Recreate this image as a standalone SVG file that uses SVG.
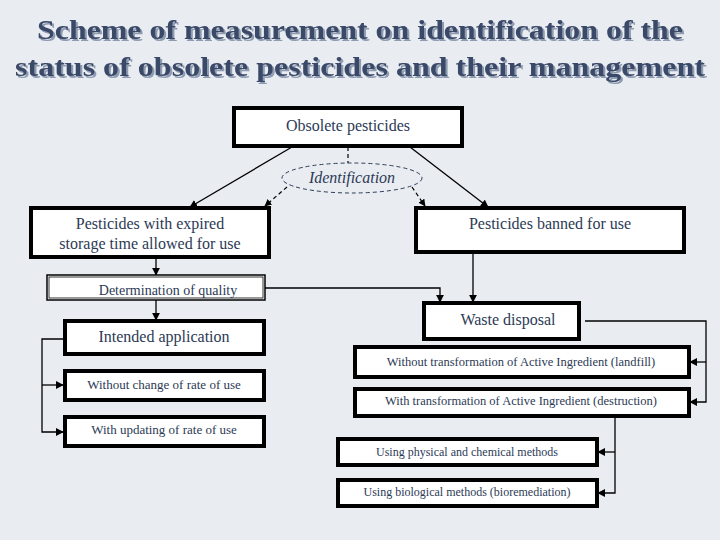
<svg xmlns="http://www.w3.org/2000/svg" width="720" height="540" viewBox="0 0 720 540">
<defs>
<marker id="a" viewBox="0 0 10 10" refX="9" refY="5" markerWidth="6" markerHeight="6" orient="auto"><path d="M0,0L10,5L0,10z" fill="#000"/></marker>
<filter id="sh" x="-5%" y="-30%" width="110%" height="160%"><feDropShadow dx="2" dy="2" stdDeviation="0.6" flood-color="#8e9bb0"/></filter>
<style>
text{font-family:'Liberation Serif',serif}
.t{fill:#2c3a55;text-anchor:middle}
.b{fill:#fff;stroke:#000;stroke-width:4}
.n{fill:#fff;stroke:#000;stroke-width:1.5}
.l{fill:none;stroke:#000;stroke-width:1.3}
.d{fill:none;stroke:#000;stroke-width:1.2;stroke-dasharray:4,3}
</style>
</defs>
<rect width="720" height="540" fill="#e9edf2"/>
<g font-weight="bold" font-size="27" text-anchor="middle" fill="#3b4868" filter="url(#sh)">
<text x="360" y="39" textLength="646" lengthAdjust="spacingAndGlyphs">Scheme of measurement on identification of the</text>
<text x="360" y="76" textLength="690" lengthAdjust="spacingAndGlyphs">status of obsolete pesticides and their management</text>
</g>
<g id="connectors">
<line class="l" x1="292" y1="147" x2="190" y2="207" marker-end="url(#a)"/>
<line class="l" x1="410" y1="147" x2="488" y2="207" marker-end="url(#a)"/>
<line class="d" x1="348" y1="147" x2="348" y2="163"/>
<line class="d" x1="287" y1="187" x2="265" y2="206" marker-end="url(#a)"/>
<line class="d" x1="412" y1="187" x2="425" y2="206" marker-end="url(#a)"/>
<line class="l" x1="156" y1="258" x2="156" y2="275" marker-end="url(#a)"/>
<polyline class="l" points="265,288 440,288 440,302" marker-end="url(#a)"/>
<line class="l" x1="473" y1="253" x2="473" y2="302" marker-end="url(#a)"/>
<line class="l" x1="156" y1="300" x2="156" y2="320" marker-end="url(#a)"/>
<polyline class="l" points="63,339 42,339 42,432 63,432" marker-end="url(#a)"/>
<line class="l" x1="42" y1="385" x2="63" y2="385" marker-end="url(#a)"/>
<polyline class="l" points="585,321 706,321 706,402 690,402" marker-end="url(#a)"/>
<line class="l" x1="706" y1="362" x2="690" y2="362" marker-end="url(#a)"/>
<polyline class="l" points="615,416 615,493 598,493" marker-end="url(#a)"/>
<line class="l" x1="615" y1="452" x2="598" y2="452" marker-end="url(#a)"/>
</g>
<g id="obsolete"><rect class="b" x="234" y="108" width="228" height="38"/><text class="t" x="348" y="131" font-size="16">Obsolete pesticides</text></g>
<g id="ident"><ellipse cx="352" cy="178" rx="70" ry="15" fill="#e9edf2" stroke="#2c3a55" stroke-width="1" stroke-dasharray="4,3"/><text class="t" x="352" y="183" font-size="16" font-style="italic">Identification</text></g>
<g id="expired"><rect class="b" x="31" y="208" width="238" height="49"/><text class="t" x="150" y="229" font-size="16">Pesticides with expired</text><text class="t" x="150" y="249" font-size="16">storage time allowed for use</text></g>
<g id="banned"><rect class="b" x="416" y="208" width="268" height="44"/><text class="t" x="550" y="229" font-size="16">Pesticides banned for use</text></g>
<g id="determination"><rect class="n" x="47" y="275" width="218" height="25"/><rect fill="none" stroke="#000" stroke-width="0.8" x="49" y="277" width="214" height="21"/><text class="t" x="168" y="295" font-size="14">Determination of quality</text></g>
<g id="waste"><rect class="b" x="424" y="303" width="155" height="36"/><text class="t" x="508" y="325" font-size="16">Waste disposal</text></g>
<g id="intended"><rect class="b" x="65" y="321" width="199" height="33"/><text class="t" x="164" y="342" font-size="16">Intended application</text></g>
<g id="withoutchange"><rect class="b" x="65" y="371" width="199" height="29" stroke-width="3"/><text class="t" x="164" y="389" font-size="13">Without change of rate of use</text></g>
<g id="withupdating"><rect class="b" x="65" y="417" width="199" height="29" stroke-width="3"/><text class="t" x="164" y="434" font-size="13">With updating of rate of use</text></g>
<g id="withouttrans"><rect class="b" x="355" y="347" width="334" height="30" stroke-width="3"/><text class="t" x="521" y="366" font-size="12.5">Without transformation of Active Ingredient (landfill)</text></g>
<g id="withtrans"><rect class="b" x="355" y="389" width="334" height="27" stroke-width="3"/><text class="t" x="521" y="405" font-size="12.5">With transformation of Active Ingredient (destruction)</text></g>
<g id="physical"><rect class="b" x="338" y="439" width="259" height="26" stroke-width="3"/><text class="t" x="467" y="456" font-size="12">Using physical and chemical methods</text></g>
<g id="biological"><rect class="b" x="338" y="480" width="259" height="26" stroke-width="3"/><text class="t" x="467" y="496" font-size="12">Using biological methods (bioremediation)</text></g>
</svg>
